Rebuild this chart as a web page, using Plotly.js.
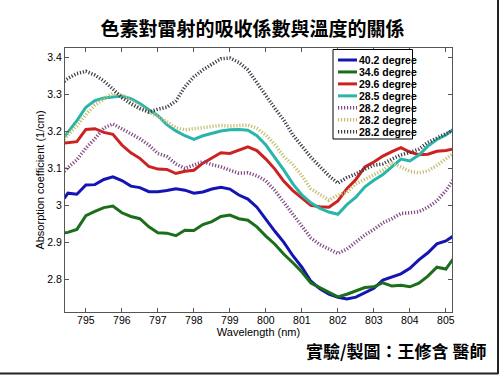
<!DOCTYPE html>
<html>
<head>
<meta charset="utf-8">
<script src="https://cdn.plot.ly/plotly-3.0.1.min.js"></script>
<style>
html,body{margin:0;padding:0;background:#fff;}
#chart{width:500px;height:375px;}
</style>
</head>
<body>
<div id="chart"></div>
<script>
// ---- data ----
var wavelength = [794.4, 794.5, 794.75, 795, 795.25, 795.5, 795.75, 796, 796.25, 796.5, 796.75,
  797, 797.25, 797.5, 797.75, 798, 798.25, 798.5, 798.75, 799, 799.25, 799.5, 799.75,
  800, 800.25, 800.5, 800.75, 801, 801.25, 801.5, 801.75, 802, 802.25, 802.5, 802.75,
  803, 803.25, 803.5, 803.75, 804, 804.25, 804.5, 804.75, 805, 805.2];

var seriesNames = ["40.2 degree", "34.6 degree", "29.6 degree", "28.5 degree",
  "28.2 degree", "28.2 degree", "28.2 degree"];

var deg40_2 = [3.019, 3.033, 3.030, 3.055, 3.056, 3.070, 3.077, 3.067, 3.052, 3.048, 3.037,
  3.037, 3.040, 3.045, 3.041, 3.033, 3.036, 3.044, 3.049, 3.044, 3.028, 3.017, 2.995,
  2.961, 2.930, 2.900, 2.864, 2.833, 2.795, 2.775, 2.760, 2.752, 2.747, 2.752, 2.765,
  2.776, 2.798, 2.806, 2.815, 2.830, 2.853, 2.872, 2.896, 2.904, 2.917];

var deg34_6 = [2.926, 2.927, 2.935, 2.972, 2.984, 2.994, 2.998, 2.980, 2.970, 2.964, 2.942,
  2.926, 2.925, 2.918, 2.933, 2.932, 2.948, 2.956, 2.970, 2.974, 2.964, 2.960, 2.942,
  2.917, 2.895, 2.868, 2.845, 2.820, 2.790, 2.778, 2.766, 2.753, 2.760, 2.769, 2.778,
  2.780, 2.791, 2.782, 2.784, 2.780, 2.790, 2.809, 2.833, 2.828, 2.855];

var deg29_6 = [3.168, 3.169, 3.172, 3.205, 3.207, 3.197, 3.192, 3.163, 3.142, 3.127, 3.105,
  3.098, 3.097, 3.086, 3.092, 3.095, 3.114, 3.128, 3.142, 3.140, 3.148, 3.158, 3.148,
  3.125, 3.098, 3.065, 3.040, 3.020, 3.000, 2.996, 2.995, 3.012, 3.045, 3.070, 3.104,
  3.117, 3.133, 3.145, 3.156, 3.144, 3.137, 3.138, 3.146, 3.148, 3.152];

var deg28_5 = [3.185, 3.197, 3.229, 3.265, 3.283, 3.290, 3.293, 3.295, 3.288, 3.275, 3.258,
  3.242, 3.218, 3.201, 3.188, 3.178, 3.188, 3.195, 3.201, 3.204, 3.205, 3.203, 3.188,
  3.163, 3.130, 3.095, 3.058, 3.028, 3.007, 2.992, 2.982, 2.976, 3.002, 3.022, 3.050,
  3.068, 3.083, 3.103, 3.125, 3.120, 3.136, 3.160, 3.178, 3.190, 3.205];

var deg28_2a = [3.092, 3.102, 3.123, 3.155, 3.180, 3.209, 3.220, 3.207, 3.192, 3.180, 3.163,
  3.140, 3.132, 3.112, 3.100, 3.108, 3.118, 3.110, 3.104, 3.095, 3.087, 3.088, 3.080,
  3.066, 3.040, 3.008, 2.975, 2.945, 2.912, 2.894, 2.883, 2.870, 2.882, 2.901, 2.920,
  2.935, 2.953, 2.964, 2.978, 2.980, 2.983, 2.995, 3.012, 3.040, 3.068];

var deg28_2b = [3.178, 3.190, 3.215, 3.245, 3.271, 3.288, 3.303, 3.298, 3.282, 3.268, 3.252,
  3.240, 3.225, 3.210, 3.204, 3.207, 3.210, 3.214, 3.216, 3.214, 3.216, 3.217, 3.208,
  3.190, 3.164, 3.132, 3.110, 3.080, 3.045, 3.030, 3.014, 3.028, 3.035, 3.058, 3.071,
  3.083, 3.095, 3.115, 3.104, 3.092, 3.088, 3.093, 3.108, 3.125, 3.140];

var deg28_2c = [3.335, 3.343, 3.356, 3.362, 3.352, 3.336, 3.314, 3.291, 3.274, 3.261, 3.252,
  3.260, 3.265, 3.282, 3.320, 3.347, 3.366, 3.382, 3.396, 3.398, 3.386, 3.366, 3.330,
  3.294, 3.262, 3.230, 3.190, 3.160, 3.130, 3.105, 3.080, 3.060, 3.075, 3.085, 3.098,
  3.108, 3.112, 3.125, 3.136, 3.143, 3.152, 3.170, 3.182, 3.195, 3.203];

var xTickVals = [795, 796, 797, 798, 799, 800, 801, 802, 803, 804, 805];
var xTickText = ["795", "796", "797", "798", "799", "800", "801", "802", "803", "804", "805"];
var yTickVals = [2.8, 2.9, 3.0, 3.1, 3.2, 3.3, 3.4];
var yTickText = ["2.8", "2.9", "3", "3.1", "3.2", "3.3", "3.4"];

var chartTitle = "色素對雷射的吸收係數與溫度的關係";
var creditText = "實驗/製圖：王修含 醫師";
var xTitle = "Wavelength (nm)";
var yTitle = "Absorption coefficient (1/cm)";

// ---- styles ----
var allSeries = [deg40_2, deg34_6, deg29_6, deg28_5, deg28_2a, deg28_2b, deg28_2c];
var colors = ["#1414b4", "#1b6e1b", "#cc2222", "#2ab5aa", "#7e4a80", "#c4bd6e", "#3e3a48"];
var dashes = ["solid", "solid", "solid", "solid", "1.2px,1.8px", "1.2px,1.8px", "1.2px,1.8px"];
var widths = [3, 3, 3, 3, 3.5, 3.5, 3.5];

var traces = allSeries.map(function (ys, i) {
  return {
    x: wavelength, y: ys, name: seriesNames[i], type: "scatter", mode: "lines",
    line: {color: colors[i], width: widths[i], dash: dashes[i]},
    showlegend: false
  };
});

// plot area in pixels
var L = 65, R = 452, T = 48, B = 312;
function px(xp) { return (xp - L) / (R - L); }
function py(yp) { return (B - yp) / (B - T); }

var shapes = [];
var annotations = [];

// custom legend box
shapes.push({type: "rect", xref: "paper", yref: "paper",
  x0: px(333), x1: px(412.5), y0: py(139), y1: py(49.5),
  line: {color: "#000", width: 1}, fillcolor: "#fff", layer: "above"});
for (var i = 0; i < seriesNames.length; i++) {
  var ry = 60 + i * 11.95;
  shapes.push({type: "line", xref: "paper", yref: "paper",
    x0: px(338), x1: px(357), y0: py(ry), y1: py(ry),
    line: {color: colors[i], width: widths[i], dash: dashes[i]}, layer: "above"});
  annotations.push({xref: "paper", yref: "paper", x: px(357), y: py(ry),
    xanchor: "left", yanchor: "middle", showarrow: false, text: seriesNames[i],
    font: {family: "Liberation Sans, Arial, sans-serif", size: 10.5, color: "#000", weight: "bold"}});
}

// outer frame (right and bottom edges of the picture)
shapes.push({type: "line", xref: "paper", yref: "paper",
  x0: px(498), x1: px(498), y0: py(374), y1: py(0), line: {color: "#222", width: 2}});
shapes.push({type: "line", xref: "paper", yref: "paper",
  x0: px(0), x1: px(498), y0: py(373.5), y1: py(373.5), line: {color: "#222", width: 2}});

// credit text
annotations.push({xref: "paper", yref: "paper", x: px(488), y: py(350),
  xanchor: "right", yanchor: "middle", showarrow: false, text: creditText,
  font: {family: "Noto Sans CJK TC, sans-serif", size: 17, color: "#000", weight: "bold"}});

var axisCommon = {
  showline: true, linecolor: "#555", linewidth: 1, mirror: "ticks",
  ticks: "inside", ticklen: 4, tickcolor: "#555", tickwidth: 1,
  showgrid: false, zeroline: false, tickmode: "array",
  tickfont: {family: "Liberation Sans, Arial, sans-serif", size: 10.5, color: "#000"}
};

var layout = {
  width: 500, height: 375,
  margin: {l: L, r: 500 - R, t: T, b: 375 - B, pad: 0},
  paper_bgcolor: "#fff", plot_bgcolor: "#fff",
  showlegend: false,
  title: {text: chartTitle, x: 0.505, xref: "container", xanchor: "center",
    y: 1 - 29.5 / 375, yref: "container", yanchor: "middle",
    font: {family: "Noto Sans CJK TC, sans-serif", size: 19, color: "#000", weight: "bold"}},
  xaxis: Object.assign({}, axisCommon, {
    range: [794.42, 805.17], tickvals: xTickVals, ticktext: xTickText, ticklabelstandoff: -2,
    title: {text: xTitle, standoff: 0,
      font: {family: "Liberation Sans, Arial, sans-serif", size: 11, color: "#000"}}
  }),
  yaxis: Object.assign({}, axisCommon, {
    range: [2.712, 3.425], tickvals: yTickVals, ticktext: yTickText,
    title: {text: yTitle, standoff: 0,
      font: {family: "Liberation Sans, Arial, sans-serif", size: 11, color: "#000"}}
  }),
  shapes: shapes,
  annotations: annotations
};

Plotly.newPlot("chart", traces, layout, {displayModeBar: false, staticPlot: true});
</script>
</body>
</html>
